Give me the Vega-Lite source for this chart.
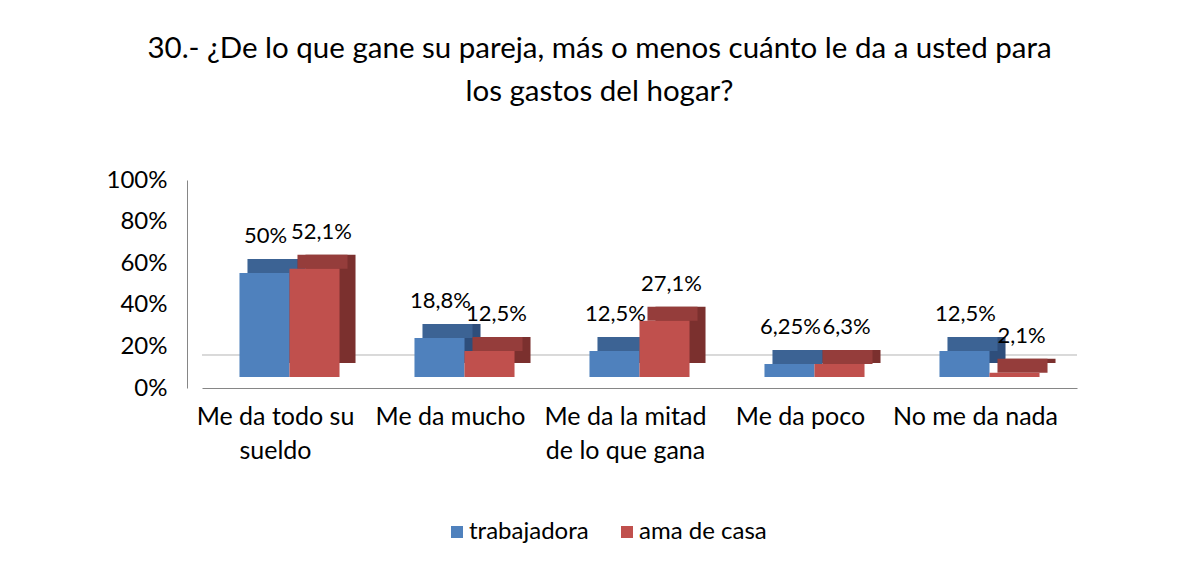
{
  "$schema": "https://vega.github.io/schema/vega-lite/v6.json",
  "autosize": "none",
  "width": 875,
  "height": 208,
  "padding": {"left": 202, "top": 180, "right": 124, "bottom": 181},
  "background": "#ffffff",
  "title": {
    "text": ["30.- ¿De lo que gane su pareja, más o menos cuánto le da a usted para", "los gastos del hogar?"],
    "font": "Lato",
    "fontSize": 29.5,
    "fontWeight": "normal",
    "color": "#000000",
    "lineHeight": 43,
    "anchor": "middle",
    "dx": -40,
    "offset": 61
  },
  "data": {
    "values": [
      {"categoria": "Me da todo su sueldo", "grupo": "trabajadora", "valor": 50, "etiqueta": "50%"},
      {"categoria": "Me da todo su sueldo", "grupo": "ama de casa", "valor": 52.1, "etiqueta": "52,1%"},
      {"categoria": "Me da mucho", "grupo": "trabajadora", "valor": 18.8, "etiqueta": "18,8%"},
      {"categoria": "Me da mucho", "grupo": "ama de casa", "valor": 12.5, "etiqueta": "12,5%"},
      {"categoria": "Me da la mitad de lo que gana", "grupo": "trabajadora", "valor": 12.5, "etiqueta": "12,5%"},
      {"categoria": "Me da la mitad de lo que gana", "grupo": "ama de casa", "valor": 27.1, "etiqueta": "27,1%"},
      {"categoria": "Me da poco", "grupo": "trabajadora", "valor": 6.25, "etiqueta": "6,25%"},
      {"categoria": "Me da poco", "grupo": "ama de casa", "valor": 6.3, "etiqueta": "6,3%"},
      {"categoria": "No me da nada", "grupo": "trabajadora", "valor": 12.5, "etiqueta": "12,5%"},
      {"categoria": "No me da nada", "grupo": "ama de casa", "valor": 2.1, "etiqueta": "2,1%"}
    ]
  },
  "encoding": {
    "x": {
      "field": "categoria",
      "type": "nominal",
      "sort": null,
      "scale": {"paddingInner": 0.714, "paddingOuter": 0.357},
      "axis": {
        "title": null,
        "labelAngle": 0,
        "labelFont": "Lato",
        "labelFontSize": 25,
        "labelColor": "#000000",
        "labelPadding": 28,
        "labelOffset": -14,
        "labelLineHeight": 34,
        "labelBaseline": "middle",
        "ticks": false,
        "domainColor": "#868686",
        "labelExpr": "datum.value == 'Me da todo su sueldo' ? ['Me da todo su', 'sueldo'] : datum.value == 'Me da la mitad de lo que gana' ? ['Me da la mitad', 'de lo que gana'] : datum.value"
      }
    },
    "y": {
      "field": "valor",
      "type": "quantitative",
      "scale": {"domain": [0, 100]},
      "axis": {
        "title": null,
        "values": [0, 20, 40, 60, 80, 100],
        "labelExpr": "datum.value + '%'",
        "labelFont": "Lato",
        "labelFontSize": 24,
        "labelColor": "#000000",
        "labelPadding": 20,
        "offset": 15,
        "ticks": false,
        "grid": false,
        "domainColor": "#868686"
      }
    }
  },
  "layer": [
    {
      "mark": {"type": "rule", "yOffset": -33, "color": "#D9D9D9", "strokeWidth": 1},
      "encoding": {"y": {"datum": 0}, "x": null}
    },
    {
      "transform": [{"filter": "datum.grupo == 'trabajadora'"}],
      "mark": {"type": "bar", "xOffset": -9, "x2Offset": -9, "yOffset": -25, "y2Offset": -25, "color": "#2E4E7B"},
      "encoding": {"y2": {"datum": 0}}
    },
    {
      "transform": [{"filter": "datum.grupo == 'trabajadora'"}],
      "mark": {"type": "bar", "xOffset": -17, "x2Offset": -17, "yOffset": -25, "y2Offset": -11, "color": "#3C6394"},
      "encoding": {"y2": {"field": "valor"}}
    },
    {
      "transform": [{"filter": "datum.grupo == 'trabajadora'"}],
      "mark": {"type": "bar", "xOffset": -25, "x2Offset": -25, "yOffset": -11, "y2Offset": -11},
      "encoding": {
        "y2": {"datum": 0},
        "color": {
          "field": "grupo",
          "type": "nominal",
          "scale": {"domain": ["trabajadora", "ama de casa"], "range": ["#4F81BD", "#C0504D"]},
          "legend": {
            "title": null,
            "orient": "none",
            "legendX": 243,
            "legendY": 340,
            "direction": "horizontal",
            "symbolType": "square",
            "symbolSize": 144,
            "symbolStrokeWidth": 0,
            "labelFont": "Lato",
            "labelFontSize": 24,
            "labelColor": "#000000",
            "labelOffset": 0,
            "columnPadding": 26
          }
        }
      }
    },
    {
      "transform": [{"filter": "datum.grupo == 'ama de casa'"}],
      "mark": {"type": "bar", "xOffset": 41, "x2Offset": 41, "yOffset": -25, "y2Offset": -25, "color": "#7B302E"},
      "encoding": {"y2": {"datum": 0}}
    },
    {
      "transform": [{"filter": "datum.grupo == 'ama de casa'"}],
      "mark": {"type": "bar", "xOffset": 33, "x2Offset": 33, "yOffset": -25, "y2Offset": -11, "color": "#953D3B"},
      "encoding": {"y2": {"field": "valor"}}
    },
    {
      "transform": [{"filter": "datum.grupo == 'ama de casa'"}],
      "mark": {"type": "bar", "xOffset": 25, "x2Offset": 25, "yOffset": -11, "y2Offset": -11},
      "encoding": {
        "y2": {"datum": 0},
        "color": {"field": "grupo", "type": "nominal"}
      }
    },
    {
      "transform": [{"filter": "datum.grupo == 'trabajadora'"}],
      "mark": {"type": "text", "yOffset": -11, "dy": -37, "dx": -24, "baseline": "middle", "align": "center", "font": "Lato", "fontSize": 22, "color": "#000000"},
      "encoding": {"text": {"field": "etiqueta", "type": "nominal"}}
    },
    {
      "transform": [{"filter": "datum.grupo == 'ama de casa'"}],
      "mark": {"type": "text", "yOffset": -11, "dy": -37, "dx": 32, "baseline": "middle", "align": "center", "font": "Lato", "fontSize": 22, "color": "#000000"},
      "encoding": {"text": {"field": "etiqueta", "type": "nominal"}}
    }
  ],
  "config": {
    "view": {"stroke": null}
  }
}
